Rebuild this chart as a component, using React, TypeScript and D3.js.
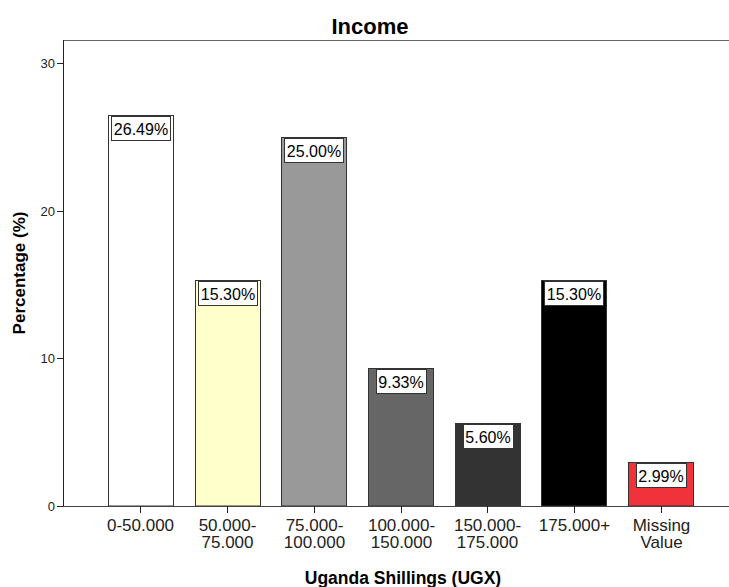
import * as d3 from "d3";
import React from "react";

const categories = ["0-50.000", "50.000-\n75.000", "75.000-\n100.000", "100.000-\n150.000", "150.000-\n175.000", "175.000+", "Missing\nValue"];
const values = [26.49, 15.3, 25.0, 9.33, 5.6, 15.3, 2.99];
const barColors = ["#ffffff", "#ffffcc", "#999999", "#666666", "#333333", "#000000", "#f0323a"];
const yTicks = [0, 10, 20, 30];

const width = 729;
const height = 587;
const left = 63;
const top = 40;
const bottom = 506;
const font = "Arial, 'Liberation Sans', sans-serif";

// rough text width for label boxes
const measure = (s: string, size: number) => {
  if (typeof document === "undefined") return s.length * size * 0.55;
  const c = document.createElement("canvas").getContext("2d");
  c.font = `${size}px ${font}`;
  return c.measureText(s).width;
};

export default function App() {
  const x = d3
    .scaleBand()
    .domain(categories)
    .range([97, 704])
    .paddingInner(0.25)
    .paddingOuter(0.125);
  const y = d3.scaleLinear().domain([0, 30]).range([bottom, 63]);

  return (
    <svg
      width={width}
      height={height}
      style={{ position: "absolute", left: 0, top: 0, background: "#fff" }}
      fontFamily={font}
    >
      <text x={370} y={34} textAnchor="middle" fontSize={22} fontWeight="bold">
        Income
      </text>

      {/* frame */}
      <line x1={left} x2={width} y1={top + 0.5} y2={top + 0.5} stroke="#666" />
      <line x1={left + 0.5} x2={left + 0.5} y1={top} y2={bottom} stroke="#222" />

      {yTicks.map((t) => (
        <g key={t} transform={`translate(0,${Math.round(y(t)) + 0.5})`}>
          <line x1={57} x2={left} stroke="#222" />
          <text x={55} dy="0.35em" textAnchor="end" fontSize={13} fill="#222">
            {t}
          </text>
        </g>
      ))}

      {categories.map((c, i) => {
        const bx = Math.round(x(c)!) + 0.5;
        const bw = Math.round(x.bandwidth());
        const by = Math.round(y(values[i])) + 0.5;
        const label = values[i].toFixed(2) + "%";
        const tw = measure(label, 16) + 5;
        const cx = bx + bw / 2;
        return (
          <g key={c}>
            <rect x={bx} y={by} width={bw} height={bottom - by} fill={barColors[i]} stroke="#333" />
            <rect x={Math.round(cx - tw / 2) + 0.5} y={by + 1} width={Math.round(tw)} height={24} fill="#fff" stroke="#333" />
            <text x={cx} y={by + 19} textAnchor="middle" fontSize={16} fill="#000">
              {label}
            </text>
          </g>
        );
      })}

      <line x1={left} x2={width} y1={bottom + 0.5} y2={bottom + 0.5} stroke="#444" />

      {categories.map((c) => {
        const cx = Math.round(x(c)! + x.bandwidth() / 2) + 0.5;
        return (
          <g key={c}>
            <line x1={cx} x2={cx} y1={bottom} y2={bottom + 7} stroke="#222" />
            {c.split("\n").map((line, j) => (
              <text key={j} x={cx} y={531 + j * 16.5} textAnchor="middle" fontSize={17} fill="#222">
                {line}
              </text>
            ))}
          </g>
        );
      })}

      <text x={403} y={584} textAnchor="middle" fontSize={17.5} fontWeight="bold">
        Uganda Shillings (UGX)
      </text>
      <text
        transform="translate(25,273) rotate(-90)"
        textAnchor="middle"
        fontSize={17}
        fontWeight="bold"
      >
        Percentage (%)
      </text>
    </svg>
  );
}
